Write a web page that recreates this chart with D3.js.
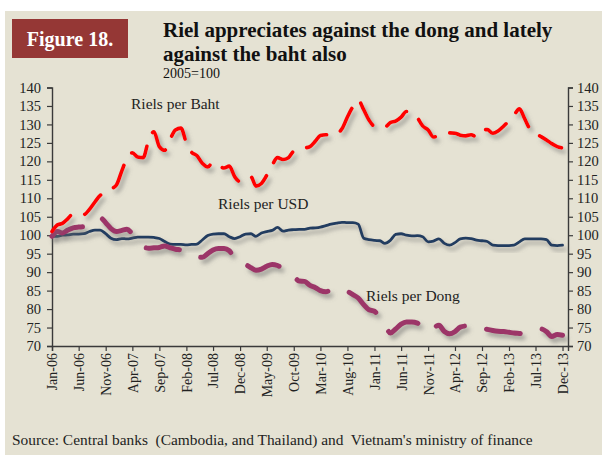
<!DOCTYPE html>
<html>
<head>
<meta charset="utf-8">
<script src="https://cdn.jsdelivr.net/npm/d3@7"></script>
<style>
  body { margin: 0; background: #fff; }
  svg text { font-family: "Liberation Serif", "Times New Roman", serif; }
</style>
</head>
<body>
<svg id="chart" width="602" height="455"></svg>
<script>
// monthly index, 2005=100, Jan-06 .. Dec-13
var rielsPerBaht = [
  101.0, 102.8, 103.2, 104.5, 105.8, 105.7, 105.6, 107.0, 109.0, 110.8, 111.4, 112.5,
  113.6, 117.5, 120.8, 122.3, 121.2, 121.0, 125.5, 128.0, 124.0, 123.0, 126.0, 128.5,
  129.0, 125.0, 122.5, 121.5, 119.5, 118.5, 119.8, 119.0, 118.2, 118.7, 115.8, 114.5,
  115.3, 115.8, 113.3, 114.0, 116.2, 119.0, 121.0, 120.5, 121.0, 122.8, 123.3, 123.6,
  124.0, 125.5, 127.0, 127.2, 127.1, 127.5, 128.8, 132.0, 134.8, 136.6, 134.0, 131.2,
  129.5, 129.3, 129.3, 130.5, 130.9, 132.0, 133.5, 133.0, 131.8, 129.6, 128.5, 126.6,
  127.0, 127.5, 127.7, 127.6, 127.1, 126.9, 127.2, 126.7, 128.5, 128.6, 127.6, 128.2,
  129.5, 131.0, 132.5, 134.2, 131.5, 128.6, 127.5, 126.7, 125.8, 124.8, 124.0, 123.6
];
var rielsPerUSD = [
  99.7, 99.7, 100.0, 100.1, 100.3, 100.3, 100.4, 101.0, 101.4, 101.4, 100.4, 99.2,
  98.8, 99.1, 99.0, 99.2, 99.5, 99.5, 99.5, 99.4, 99.1, 98.3, 97.6, 97.5,
  97.5, 97.4, 97.5, 97.6, 98.7, 99.9, 100.3, 100.4, 100.4, 99.6, 99.1, 99.6,
  100.3, 100.4, 99.7, 100.6, 101.0, 101.3, 102.1, 101.1, 101.4, 101.5, 101.6, 101.6,
  101.9, 102.0, 102.2, 102.6, 103.0, 103.3, 103.5, 103.4, 103.4, 103.0, 99.2, 98.8,
  98.6, 98.5, 97.8, 98.6, 100.2, 100.4, 100.0, 99.8, 99.9, 99.6, 98.2, 98.4,
  99.0, 97.8, 97.3, 98.0, 99.0, 99.2, 99.1, 98.7, 98.5, 98.3, 97.3, 97.2,
  97.2, 97.2, 97.3, 98.2, 99.0, 99.0, 99.0, 99.0, 98.8, 97.3, 97.2, 97.3
];
var rielsPerDong = [
  99.7, 101.0, 100.6, 101.4, 102.0, 102.2, 102.3, 102.6, 103.5, 104.7, 103.4, 101.8,
  101.0, 101.3, 101.6, 100.3, 98.5, 96.9, 96.5, 96.6, 96.7, 97.1, 96.6, 96.2,
  96.0, 95.5, 94.5, 94.1, 94.0, 95.0, 96.0, 96.4, 96.4, 95.8, 93.5, 92.2,
  92.0, 91.2, 90.5, 90.8, 91.6, 92.1, 91.8, 91.0, 90.5, 89.0, 87.6, 87.5,
  86.4, 85.8, 85.0, 84.7, 85.2, 85.5, 85.7, 84.8, 83.9, 83.0, 81.2, 79.8,
  79.4, 77.5, 75.8, 73.5, 74.6, 75.9, 76.5, 76.5, 76.2, 75.0, 73.9, 74.9,
  75.6, 73.9, 73.3, 73.9, 75.1, 75.4, 75.3, 75.6, 74.9, 74.5, 74.2, 74.0,
  73.9, 73.7, 73.5, 73.4, 73.3, 73.5, 73.7, 74.6, 73.9, 72.6, 73.1, 72.9
];
var yTicks = [70, 75, 80, 85, 90, 95, 100, 105, 110, 115, 120, 125, 130, 135, 140];
var xTickLabels = ["Jan-06", "Jun-06", "Nov-06", "Apr-07", "Sep-07", "Feb-08", "Jul-08",
  "Dec-08", "May-09", "Oct-09", "Mar-10", "Aug-10", "Jan-11", "Jun-11", "Nov-11",
  "Apr-12", "Sep-12", "Feb-13", "Jul-13", "Dec-13"];

var serif = "'Liberation Serif', 'Times New Roman', serif";
var parseMonth = d3.timeParse("%b-%y");
var months = d3.timeMonth.range(new Date(2006, 0, 1), new Date(2014, 0, 1));

var svg = d3.select("#chart");

// background panel
svg.append("rect").attr("x", 5).attr("y", 11).attr("width", 597).attr("height", 444)
  .attr("fill", "#e5e2d3");

// shadow filter for the lines
var defs = svg.append("defs");
defs.append("filter").attr("id", "shadow")
  .attr("x", "-10%").attr("y", "-10%").attr("width", "130%").attr("height", "140%")
  .append("feDropShadow")
  .attr("dx", 3).attr("dy", 4).attr("stdDeviation", 2.2)
  .attr("flood-color", "#6b6b6b").attr("flood-opacity", 0.55);

// title block
svg.append("rect").attr("x", 12).attr("y", 19).attr("width", 116).attr("height", 39)
  .attr("fill", "#953735");
svg.append("text").attr("x", 70).attr("y", 45.5).attr("text-anchor", "middle")
  .attr("fill", "#fff").attr("font-size", 20).attr("font-weight", "bold").text("Figure 18.");
svg.append("text").attr("x", 163).attr("y", 37).attr("font-size", 21).attr("font-weight", "bold")
  .attr("fill", "#111").text("Riel appreciates against the dong and lately");
svg.append("text").attr("x", 163).attr("y", 61).attr("font-size", 21).attr("font-weight", "bold")
  .attr("fill", "#111").text("against the baht also");
svg.append("text").attr("x", 163).attr("y", 78).attr("font-size", 14)
  .attr("fill", "#111").text("2005=100");

var x = d3.scaleTime().domain([new Date(2006, 0, 1), new Date(2014, 0, 1)]).range([52, 568]);
var y = d3.scaleLinear().domain([70, 140]).range([346, 87.5]);

// axes
var axisLeft = svg.append("g").attr("transform", "translate(52,0)")
  .call(d3.axisLeft(y).tickValues(yTicks).tickSize(5).tickPadding(6));
var axisRight = svg.append("g").attr("transform", "translate(568,0)")
  .call(d3.axisRight(y).tickValues(yTicks).tickSize(5).tickPadding(4));
var axisBottom = svg.append("g").attr("transform", "translate(0,346)")
  .call(d3.axisBottom(x).tickValues(xTickLabels.map(parseMonth)).tickSize(5)
    .tickFormat(d3.timeFormat("%b-%y")));

[axisLeft, axisRight, axisBottom].forEach(function(a) {
  a.attr("font-family", serif).attr("font-size", 14.5);
  a.select(".domain").attr("stroke", "#3a3a3a").attr("stroke-width", 1.4);
  a.selectAll(".tick line").attr("stroke", "#3a3a3a").attr("stroke-width", 1.2);
  a.selectAll("text").attr("fill", "#222");
});
axisBottom.attr("font-size", 14);
axisBottom.selectAll("text")
  .attr("transform", "rotate(-90)")
  .attr("text-anchor", "end")
  .attr("x", -7).attr("y", 0).attr("dy", "0.35em");

// lines
var line = d3.line()
  .x(function(d, i) { return x(months[i]); })
  .y(function(d) { return y(d); })
  .curve(d3.curveMonotoneX);

var series = [
  { values: rielsPerUSD, color: "#223c61", width: 2.8, dash: null },
  { values: rielsPerDong, color: "#9c3468", width: 5, dash: "34,23" },
  { values: rielsPerBaht, color: "#ff0000", width: 3.6, dash: "25,15" }
];
series.forEach(function(s) {
  svg.append("path").datum(s.values)
    .attr("d", line)
    .attr("fill", "none")
    .attr("stroke", s.color)
    .attr("stroke-width", s.width)
    .attr("stroke-linecap", "round")
    .attr("stroke-linejoin", "round")
    .attr("stroke-dasharray", s.dash)
    .attr("filter", "url(#shadow)");
});

// series labels
var labels = [
  { text: "Riels per Baht", x: 131, y: 109 },
  { text: "Riels per USD", x: 218, y: 209 },
  { text: "Riels per Dong", x: 366, y: 301 }
];
labels.forEach(function(l) {
  svg.append("text").attr("x", l.x).attr("y", l.y).attr("font-size", 15.5)
    .attr("fill", "#222").text(l.text);
});

// source
svg.append("text").attr("x", 12).attr("y", 445).attr("font-size", 15.4).attr("fill", "#222")
  .style("white-space", "pre")
  .text("Source: Central banks  (Cambodia, and Thailand) and  Vietnam's ministry of finance");
</script>
</body>
</html>
